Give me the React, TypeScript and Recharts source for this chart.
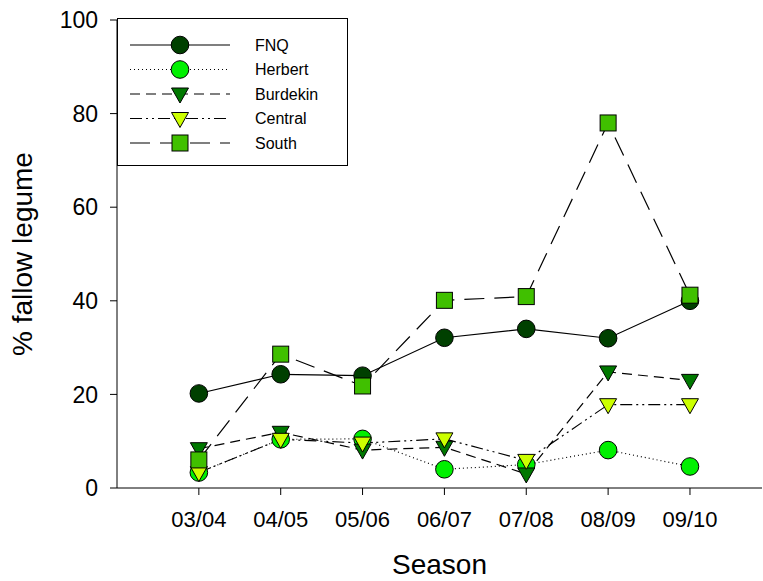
import { LineChart, Line, XAxis, YAxis } from "recharts";

const seasons = ["03/04", "04/05", "05/06", "06/07", "07/08", "08/09", "09/10"];

const fnq = [20.2, 24.3, 24.0, 32.1, 34.0, 32.0, 40.0];
const herbert = [3.3, 10.4, 10.5, 4.0, 5.0, 8.1, 4.6];
const burdekin = [8.4, 11.9, 8.1, 8.7, 3.0, 24.8, 23.0];
const central = [3.3, 10.4, 9.6, 10.5, 5.9, 17.8, 17.8];
const south = [6.0, 28.6, 21.8, 40.1, 40.9, 78.0, 41.2];

const yTicks = [0, 20, 40, 60, 80, 100];

const data = seasons.map((s, i) => ({
  x: i + 1,
  season: s,
  FNQ: fnq[i],
  Herbert: herbert[i],
  Burdekin: burdekin[i],
  Central: central[i],
  South: south[i],
}));

type Shape = "circle" | "triangle" | "square";

const series: { key: string; fill: string; shape: Shape; dash?: string }[] = [
  { key: "FNQ", fill: "#004000", shape: "circle" },
  { key: "Herbert", fill: "#00f000", shape: "circle", dash: "1 3" },
  { key: "Burdekin", fill: "#007800", shape: "triangle", dash: "10 6" },
  { key: "Central", fill: "#ccff00", shape: "triangle", dash: "12 4 2 4 2 4" },
  { key: "South", fill: "#40c000", shape: "square", dash: "20 10" },
];

const FONT = "'Liberation Sans', Arial, sans-serif";

function Marker({ cx, cy, shape, fill }: { cx: number; cy: number; shape: Shape; fill: string }) {
  if (shape === "circle") {
    return <circle cx={cx} cy={cy} r={8.8} fill={fill} stroke="#000" strokeWidth={1} />;
  }
  if (shape === "square") {
    return <rect x={cx - 8} y={cy - 8} width={16} height={16} fill={fill} stroke="#000" strokeWidth={1} />;
  }
  return (
    <polygon
      points={`${cx - 8.5},${cy - 6} ${cx + 8.5},${cy - 6} ${cx},${cy + 9}`}
      fill={fill}
      stroke="#000"
      strokeWidth={1}
    />
  );
}

// legend box sits over the top-left corner of the plot
function LegendBox() {
  return (
    <svg width={231} height={148} style={{ position: "absolute", left: 117, top: 18, display: "block" }}>
      <rect x={0.5} y={0.5} width={230} height={147} fill="#fff" stroke="#000" strokeWidth={1} />
      {series.map((s, i) => {
        const y = 27 + i * 24.5;
        return (
          <g key={s.key}>
            <line x1={13} x2={113} y1={y} y2={y} stroke="#000" strokeWidth={1.2} strokeDasharray={s.dash} />
            <Marker cx={63} cy={y} shape={s.shape} fill={s.fill} />
            <text x={138} y={y} dominantBaseline="central" fontSize={16} fontFamily={FONT} fill="#000">
              {s.key}
            </text>
          </g>
        );
      })}
    </svg>
  );
}

export default function App() {
  return (
    <div style={{ position: "absolute", left: 0, top: 0, width: 763, height: 581, background: "#fff" }}>
      <LineChart width={763} height={581} data={data} margin={{ top: 20, right: 1, bottom: 0, left: 0 }}>
        <XAxis
          dataKey="x"
          type="number"
          domain={[0, 7.88]}
          ticks={[1, 2, 3, 4, 5, 6, 7]}
          tickFormatter={(v: number) => seasons[v - 1] ?? ""}
          height={93}
          tickSize={7}
          tickMargin={16}
          stroke="#000"
          tick={{ fill: "#000", fontSize: 22, fontFamily: FONT }}
          label={(props: any) => {
            const vb = props.viewBox;
            return (
              <text x={vb.x + vb.width / 2} y={564} textAnchor="middle" dominantBaseline="central" fontSize={28} fontFamily={FONT} fill="#000">
                Season
              </text>
            );
          }}
        />
        <YAxis
          type="number"
          domain={[0, 100]}
          ticks={yTicks}
          width={117}
          tickSize={7}
          tickMargin={12}
          stroke="#000"
          tick={{ fill: "#000", fontSize: 23, fontFamily: FONT }}
          label={(props: any) => {
            const vb = props.viewBox;
            const cy = vb.y + vb.height / 2;
            return (
              <text x={22} y={cy} transform={`rotate(-90, 22, ${cy})`} textAnchor="middle" dominantBaseline="central" fontSize={28} fontFamily={FONT} fill="#000">
                % fallow legume
              </text>
            );
          }}
        />
        {series.map((s) => (
          <Line
            key={s.key}
            dataKey={s.key}
            type="linear"
            stroke="#000"
            strokeWidth={1.2}
            strokeDasharray={s.dash}
            isAnimationActive={false}
            activeDot={false}
            dot={(p: any) => <Marker key={`${s.key}-${p.index}`} cx={p.cx} cy={p.cy} shape={s.shape} fill={s.fill} />}
          />
        ))}
      </LineChart>
      <LegendBox />
    </div>
  );
}
